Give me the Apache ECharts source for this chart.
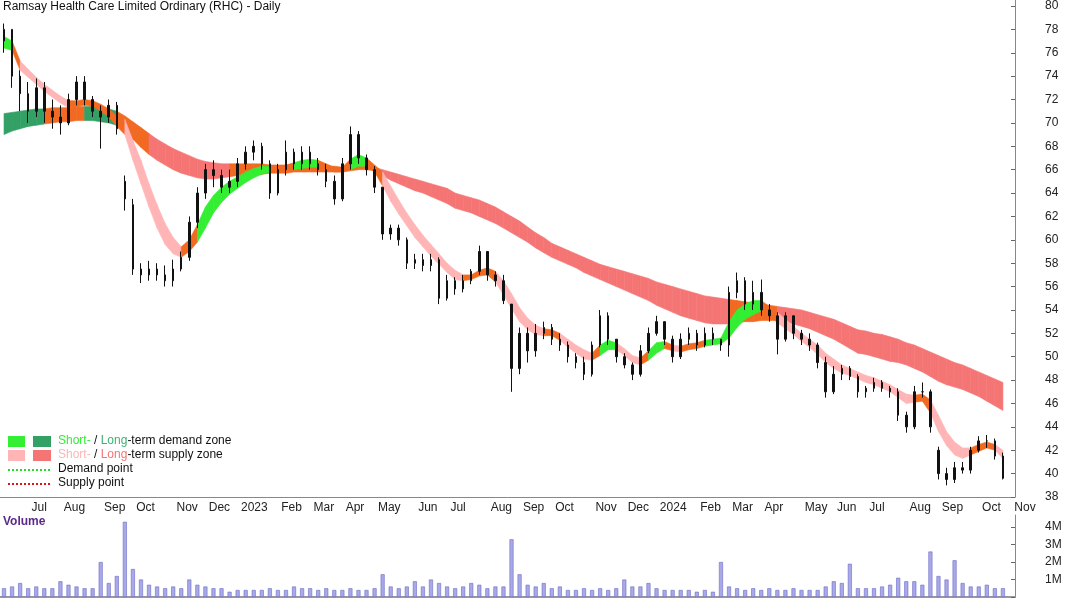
<!DOCTYPE html>
<html>
<head>
<meta charset="utf-8">
<script src="https://cdn.jsdelivr.net/npm/echarts@6/dist/echarts.min.js"></script>
<style>html,body{margin:0;padding:0;background:#fff}#main{width:1066px;height:600px}</style>
</head>
<body>
<div id="main"></div>
<script>
// weekly bars, first Monday of the series
var startDate = new Date(2022, 5, 13);
// [open, close, low, high]
var ohlc = [
  [77,78,76,78.5],[78,74,73,78],[74,72.5,71,74.5],[72.5,71,70,73.5],[71,73,70.5,73.8],
  [73,71,70,73.5],[71,70.5,69.5,72],[70.5,70,69,71.5],[70,72,69.8,72.5],[72,73.5,71.5,74],
  [73.5,72,71.5,74],[72,71,70.5,72.3],[71,70.5,67.8,71.5],[70.5,71.5,70,72],[71.5,69.5,69,71.8],
  [65,63.5,62.5,65.5],[63,57.5,57,63.5],[57.5,57,56.3,58],[57,57.5,56.5,58.2],[57.5,57,56.5,58],
  [57,56.5,56,57.8],[56.5,57.5,56,58.3],[57.5,58.5,57.3,59],[58.5,61.5,58.2,62],[61.5,64,61,64.5],
  [64,66,63.5,66.5],[66,65.5,64.5,66.8],[65.5,64.5,64,66],[64.5,65,64,66],[65,66.5,64.5,67],
  [66.5,67.5,66,68],[67.5,68,66.8,68.5],[68,66.5,66,68.3],[66.5,64,63.5,66.8],[64,66,63.8,66.5],
  [66,67.5,65.5,68.5],[67.5,66.5,66,67.8],[66.5,67.5,66,68],[67.5,66.5,66,68],[66.5,66,65.5,67],
  [66,65,64.5,66.5],[65,63.5,63,65.5],[63.5,66.5,63.3,67],[66.5,69,66,69.7],[69,67,66.5,69.3],
  [67,66,65.5,67.3],[66,64.5,64,66.3],[64.5,60.5,60,64.5],[60.5,61,60,61.3],[61,60,59.5,61.3],
  [60,58,57.5,60.2],[58,58.3,57.5,58.8],[58.3,57.8,57.3,58.8],[57.8,58.3,57.3,58.8],[58.3,55,54.5,58.5],
  [55,56.5,54.8,57],[56.5,55.8,55.3,56.8],[55.8,56.5,55.5,57],[56.5,57.3,56.2,57.5],[57.3,59,57,59.5],
  [59,57,56.5,59],[57,56.5,56,57.3],[56.5,54.8,54.5,57],[54.5,49,47,52.5],[49,52,48.5,52.5],
  [52,50.5,49.5,52.5],[50.5,52,50,52.8],[52,52.5,51.5,53],[52.5,51.5,51,52.8],[51.5,51,50.5,52],
  [51,50,49.5,51.3],[50,49.5,49,50.3],[49.5,48.5,48,50],[48.5,51,48.3,51.3],[51,53.5,50.8,54],
  [53.5,51.5,51,53.8],[51.5,50,49.5,51.5],[50,49.3,49,50.3],[49.3,48.5,48,49.5],[48.5,50.5,48.3,51],
  [50.5,52,50.3,52.5],[52,53,51.8,53.5],[53,51.5,51,53],[51.5,50,49.5,51.8],[50,51.5,49.8,52],
  [51.5,52,51,52.5],[52,51,50.5,52.3],[51,52,50.8,52.5],[52,51.5,51,52.5],[51.5,51,50.5,51.5],
  [51,55.5,50,56],[55.5,56.5,55,57.2],[56.5,54.5,54,56.8],[54.5,55.5,54,56.5],[55.5,54,53.5,56.6],
  [54,53.5,53,54.5],[53.5,51.5,50.2,53.8],[51.5,53.5,51.3,53.8],[53.5,52,51.5,53.5],[52,51.5,51,52.3],
  [51.5,51,50.5,52],[51,49.5,49,51.2],[49.5,47,46.5,50],[47,48.5,46.8,49.2],[48.5,49,48,49.3],
  [49,48.3,48,49.2],[48.3,47,46.5,48.5],[47,47.3,46.5,47.5],[47.3,47.8,47,48.2],[47.8,47.3,47,48],
  [47.3,47,46.5,47.5],[47,45,44.5,47.3],[45,44,43.5,45.3],[44,47,43.8,47.5],[47,47,46.5,47.8],
  [47,44,43.5,47.2],[42,40,39.5,42.3],[40,39.5,39,40.5],[39.5,40.5,39.2,41],[40.5,40.3,40,41],
  [40.3,42,40,42.3],[42,42.8,41.8,43.2],[42.8,42.8,42.2,43.3],[42.8,41.5,41.2,43],[41.5,39.6,39.5,41.8]
];
var longUpper = [70.8,70.9,71.0,71.1,71.2,71.2,71.3,71.3,71.3,71.4,71.4,71.4,71.3,71.2,
  71.0,70.6,70.1,69.6,69.1,68.6,68.2,67.8,67.5,67.2,66.9,66.7,66.6,66.5,66.5,66.5,66.5,66.5,
  66.5,66.4,66.4,66.4,66.4,66.4,66.4,66.4,66.3,66.3,66.2,66.2,66.3,66.3,66.2,66.0,65.8,65.6,
  65.4,65.2,65.0,64.8,64.6,64.4,64.0,63.8,63.6,63.4,63.1,62.8,62.4,62.0,61.6,61.1,60.6,60.2,59.7,
  59.4,59.1,58.8,58.5,58.2,57.9,57.7,57.5,57.3,57.1,56.9,56.7,56.4,56.2,56.0,55.8,55.6,55.4,55.2,
  55.1,55.0,54.9,54.8,54.7,54.6,54.5,54.4,54.3,54.2,54.1,54.0,53.8,53.6,53.4,53.2,52.9,52.6,52.3,
  52.2,52.0,51.9,51.7,51.5,51.2,51.0,50.7,50.4,50.1,49.8,49.5,49.3,49.0,48.7,48.4,48.1,47.8];
var longLower = [69.0,69.3,69.5,69.7,69.8,69.9,70.0,70.1,70.1,70.2,70.2,70.2,70.1,70.0,
  69.8,69.3,68.6,67.9,67.3,66.8,66.4,66.0,65.7,65.5,65.3,65.2,65.2,65.3,65.4,65.5,65.5,65.6,
  65.6,65.7,65.7,65.7,65.8,65.8,65.8,65.8,65.8,65.8,65.8,65.9,66.0,66.0,65.9,65.5,65.1,64.8,
  64.5,64.2,64.0,63.7,63.4,63.1,62.7,62.5,62.3,62.0,61.7,61.4,61.0,60.6,60.2,59.8,59.3,58.9,58.5,
  58.2,57.9,57.6,57.2,56.9,56.6,56.3,56.0,55.7,55.4,55.1,54.8,54.4,54.1,53.8,53.5,53.3,53.1,52.9,
  52.8,52.8,52.8,52.9,53.0,53.0,53.1,53.1,53.1,53.0,52.8,52.6,52.4,52.1,51.8,51.5,51.1,50.7,50.3,
  50.2,50.0,49.8,49.6,49.5,49.3,49.0,48.7,48.3,47.9,47.6,47.4,47.2,46.9,46.6,46.2,45.8,45.4];
// zone runs: G/g demand, R/p supply, o transition  [zone, weeks]
var longZoneRuns = [['G',5],['o',5],['G',4],['o',4],['R',10],['o',18],['R',44],['o',6],['R',29]];
var shortUpper = [77.4,77.0,75.3,74.6,73.9,73.3,72.8,72.3,71.9,71.9,72.0,71.9,71.6,71.2,70.6,
  70.3,68.5,66.8,64.8,63.0,61.4,60.2,59.4,60.0,61.3,62.8,63.8,64.5,65.0,65.4,65.8,66.1,66.3,
  66.3,66.2,66.4,66.6,66.8,66.9,66.8,66.5,66.2,66.2,66.9,67.3,67.0,66.4,65.8,64.6,63.4,62.3,
  61.3,60.4,59.6,58.8,58.0,57.4,57.0,57.0,57.4,57.6,57.3,56.5,55.4,54.2,53.3,52.7,52.4,52.3,
  52.0,51.5,51.0,50.6,50.3,51.0,51.4,51.2,50.7,50.1,49.9,50.5,51.2,51.3,51.0,50.9,51.1,51.2,
  51.4,51.5,51.6,53.0,54.0,54.5,54.8,54.8,54.3,53.8,53.2,52.6,52.0,51.5,51.0,50.3,49.8,49.3,
  49.0,48.7,48.4,48.2,47.9,47.6,47.2,46.8,46.7,46.8,46.3,45.0,43.6,42.7,42.2,42.2,42.5,42.7,42.5,42.0];
var shortLower = [76.4,76.2,74.5,73.9,73.3,72.7,72.2,71.7,71.3,71.4,71.5,71.4,71.0,70.5,69.7,
  69.0,66.8,64.8,62.8,61.0,59.6,58.8,58.5,59.0,59.8,61.0,62.3,63.2,63.9,64.4,64.9,65.3,65.6,
  65.8,65.8,65.9,66.0,66.1,66.2,66.2,66.0,65.8,65.8,66.0,66.3,66.3,65.8,64.6,63.3,62.2,61.2,
  60.2,59.4,58.6,57.9,57.2,56.6,56.5,56.6,56.9,57.0,56.4,55.3,54.1,53.0,52.3,51.9,51.8,51.8,
  51.4,50.8,50.3,49.8,49.7,50.1,50.6,50.6,50.1,49.5,49.3,49.7,50.3,50.7,50.5,50.4,50.6,50.7,
  50.9,51.0,51.1,51.6,52.5,53.2,53.6,53.9,53.6,52.9,52.4,51.9,51.3,50.8,50.2,49.5,49.0,48.6,
  48.4,48.1,47.8,47.6,47.3,47.0,46.5,46.0,46.1,46.2,45.2,43.6,42.4,41.6,41.3,41.6,41.9,42.2,42.0,41.3];
var shortZoneRuns = [['g',1],['o',1],['p',6],['o',7],['p',7],['o',2],['g',9],['o',3],['g',3],['o',4],
  ['g',2],['o',2],['p',10],['o',4],['p',6],['o',2],['p',4],['o',1],['g',2],['p',3],['o',1],['g',2],
  ['o',1],['p',1],['o',3],['g',7],['o',2],['p',17],['o',2],['p',5],['o',3],['p',2]];
var volume = [0.5,0.6,0.8,0.5,0.6,0.5,0.5,0.9,0.7,0.6,0.5,0.5,2.0,0.8,1.2,
  4.3,1.6,1.0,0.7,0.6,0.5,0.6,0.5,1.0,0.7,0.6,0.5,0.5,0.3,0.4,0.4,0.4,0.4,0.5,0.4,0.4,0.6,0.5,
  0.5,0.4,0.5,0.4,0.4,0.5,0.4,0.4,0.5,1.3,0.6,0.5,0.6,0.9,0.6,1.0,0.8,0.6,0.5,0.6,0.8,0.7,0.5,
  0.6,0.6,3.3,1.3,0.7,0.6,0.8,0.5,0.6,0.4,0.4,0.5,0.4,0.5,0.4,0.5,1.0,0.6,0.6,0.8,0.5,0.4,0.4,
  0.4,0.4,0.3,0.4,0.3,2.0,0.6,0.5,0.4,0.5,0.4,0.5,0.4,0.4,0.5,0.4,0.4,0.4,0.6,0.9,0.8,1.9,0.5,
  0.5,0.5,0.6,0.7,1.1,0.9,0.9,0.7,2.6,1.2,1.0,2.1,0.8,0.6,0.6,0.7,0.5,0.5];
var monthNames = ['Jan','Feb','Mar','Apr','May','Jun','Jul','Aug','Sep','Oct','Nov','Dec'];

var colors = {
  g: '#33ee33', G: '#33a066', p: '#ffb5b5', R: '#f57575', o: '#f26a22'
};

function expand(runs) {
  var s = '';
  runs.forEach(function (r) { for (var k = 0; k < r[1]; k++) s += r[0]; });
  return s;
}

// category labels (one extra empty week at the end for the Nov tick)
var cats = [], monthStart = [];
for (var i = 0; i <= ohlc.length; i++) {
  var d = new Date(startDate.getTime() + i * 7 * 86400000);
  var prev = new Date(d.getTime() - 7 * 86400000);
  cats.push(d.getMonth() === 0 ? String(d.getFullYear()) : monthNames[d.getMonth()]);
  monthStart.push(i > 0 && d.getMonth() !== prev.getMonth());
}

function bandData(up, lo, zone) {
  var out = [];
  for (var i = 0; i < up.length - 1; i++) {
    out.push([i, lo[i], up[i], lo[i + 1], up[i + 1], zone.charAt(i) || zone.charAt(zone.length - 1)]);
  }
  return out;
}
var bandSrc = [
  bandData(longUpper, longLower, expand(longZoneRuns)),
  bandData(shortUpper, shortLower, expand(shortZoneRuns))
];
function bandRender(params, api) {
  var i = api.value(0);
  var a = api.coord([i, api.value(2)]);
  var b = api.coord([i + 1, api.value(4)]);
  var c = api.coord([i + 1, api.value(3)]);
  var e = api.coord([i, api.value(1)]);
  var z = bandSrc[params.seriesIndex][params.dataIndex][5];
  return {
    type: 'polygon',
    shape: { points: [a, b, c, e] },
    style: { fill: colors[z], stroke: colors[z], lineWidth: 0.6 }
  };
}

var font = 'Liberation Sans, Arial, sans-serif';
var chart = echarts.init(document.getElementById('main'));
chart.setOption({
  animation: false,
  backgroundColor: '#fff',
  grid: [
    { left: 0, right: 51, top: 0, bottom: 103 },
    { left: 0, right: 51, top: 515, bottom: 3 }
  ],
  xAxis: [{
    type: 'category', data: cats, gridIndex: 0,
    axisLine: { lineStyle: { color: '#888', width: 1 } },
    axisTick: { interval: function (idx) { return monthStart[idx]; }, length: 4, lineStyle: { color: '#666' } },
    axisLabel: { interval: function (idx) { return monthStart[idx]; }, align: 'left', margin: 5, hideOverlap: false,
      color: '#222', fontFamily: font, fontSize: 12, formatter: function (v) { return ' ' + v; } },
    splitLine: { show: false }
  }, {
    type: 'category', data: cats, gridIndex: 1, position: 'top',
    axisLine: { lineStyle: { color: '#999', width: 2 } },
    axisTick: { show: false }, axisLabel: { show: false }
  }],
  yAxis: [{
    type: 'value', gridIndex: 0, position: 'right', min: 38, max: 80.51, interval: 2,
    axisLine: { show: true, lineStyle: { color: '#888' } },
    axisTick: { show: true, inside: true, length: 4, lineStyle: { color: '#666' } },
    axisLabel: { margin: 30, align: 'left', showMaxLabel: false, color: '#222', fontFamily: font, fontSize: 12 },
    splitLine: { show: false }
  }, {
    type: 'value', gridIndex: 1, position: 'right', min: 0, max: 4.69, interval: 1,
    axisLine: { show: true, lineStyle: { color: '#888' } },
    axisTick: { show: true, inside: true, length: 4, lineStyle: { color: '#666' } },
    axisLabel: { margin: 30, align: 'left', showMaxLabel: false, color: '#222', fontFamily: font, fontSize: 12,
      formatter: function (v) { return v === 0 ? '' : v + 'M'; } },
    splitLine: { show: false }
  }],
  series: [
    { type: 'custom', renderItem: bandRender, data: bandSrc[0], encode: { x: 0, y: [1, 2, 3, 4] }, z: 1 },
    { type: 'custom', renderItem: bandRender, data: bandSrc[1], encode: { x: 0, y: [1, 2, 3, 4] }, z: 2 },
    {
      type: 'candlestick', data: ohlc, barWidth: 2, z: 3,
      itemStyle: { color: '#111', color0: '#111', borderColor: '#111', borderColor0: '#111', borderWidth: 1 }
    },
    {
      type: 'bar', xAxisIndex: 1, yAxisIndex: 1, data: volume, barWidth: 4,
      itemStyle: { color: '#a9a9e8', borderColor: '#6a6ac8', borderWidth: 0.6 }
    }
  ],
  graphic: [
    { type: 'text', left: 3, top: 1, style: { text: 'Ramsay Health Care Limited Ordinary (RHC) - Daily', font: '12px ' + font, fill: '#111' } },
    { type: 'text', left: 3, top: 516, style: { text: 'Volume', font: 'bold 12px ' + font, fill: '#5a2a8a' } },
    { type: 'rect', shape: { x: 8, y: 436, width: 17, height: 11 }, style: { fill: colors.g } },
    { type: 'rect', shape: { x: 33, y: 436, width: 18, height: 11 }, style: { fill: colors.G } },
    { type: 'rect', shape: { x: 8, y: 450, width: 17, height: 11 }, style: { fill: colors.p } },
    { type: 'rect', shape: { x: 33, y: 450, width: 18, height: 11 }, style: { fill: colors.R } },
    { type: 'line', shape: { x1: 8, y1: 470, x2: 51, y2: 470 }, style: { stroke: '#22dd22', lineWidth: 2, lineDash: [2, 2] } },
    { type: 'line', shape: { x1: 8, y1: 484, x2: 51, y2: 484 }, style: { stroke: '#e0101a', lineWidth: 2, lineDash: [2, 2] } },
    { type: 'text', left: 58, top: 435, style: {
      text: '{a|Short-} / {b|Long}-term demand zone',
      font: '12px ' + font, fill: '#111',
      rich: { a: { fill: '#33ee33', font: '12px ' + font }, b: { fill: '#3cb371', font: '12px ' + font } } } },
    { type: 'text', left: 58, top: 449, style: {
      text: '{a|Short-} / {b|Long}-term supply zone',
      font: '12px ' + font, fill: '#111',
      rich: { a: { fill: '#ffb5b5', font: '12px ' + font }, b: { fill: '#f57575', font: '12px ' + font } } } },
    { type: 'text', left: 58, top: 463, style: { text: 'Demand point', font: '12px ' + font, fill: '#111' } },
    { type: 'text', left: 58, top: 477, style: { text: 'Supply point', font: '12px ' + font, fill: '#111' } }
  ]
});
</script>
</body>
</html>
